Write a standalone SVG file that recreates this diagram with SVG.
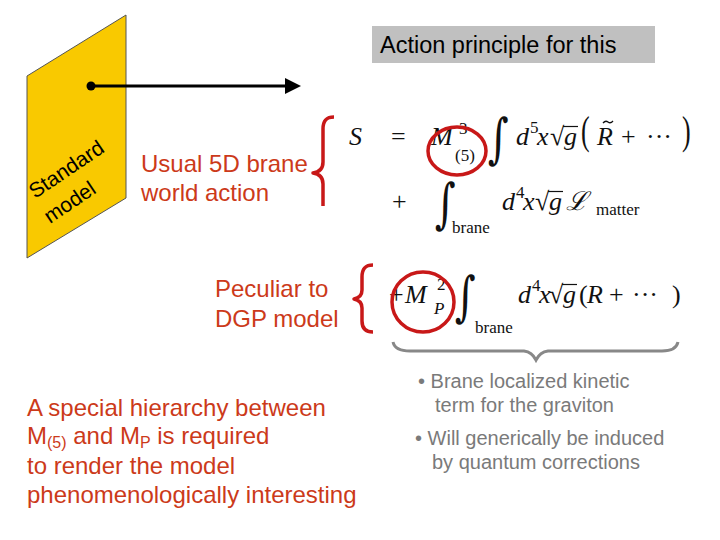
<svg xmlns="http://www.w3.org/2000/svg" width="720" height="540" viewBox="0 0 720 540">
<style>
.red{font-family:"Liberation Sans",Arial,sans-serif;font-size:24px;fill:#cc3a1a}
.grey{font-family:"Liberation Sans",Arial,sans-serif;font-size:20px;fill:#7a7a7a}
.m{font-family:"Liberation Serif","DejaVu Serif",serif;font-size:26px;fill:#111}
.mi{font-family:"Liberation Serif","DejaVu Serif",serif;font-size:26px;font-style:italic;fill:#111}
.s{font-family:"Liberation Serif","DejaVu Serif",serif;font-size:17px;fill:#111}
.si{font-family:"Liberation Serif","DejaVu Serif",serif;font-size:17px;font-style:italic;fill:#111}
.int{font-family:"DejaVu Serif",serif;font-size:40px;fill:#111}
.brace{fill:none;stroke:#c81818;stroke-width:3.5;stroke-linejoin:round}
.circ{fill:none;stroke:#c81818;stroke-width:3.5}
.bar{stroke:#111;stroke-width:1.2}
.tilde{fill:none;stroke:#111;stroke-width:1.3}
</style>
<rect width="720" height="540" fill="#fff"/>

<g id="brane">
<polygon points="27,76 126,15 126,198 27,258" fill="#f9c900" stroke="#555" stroke-width="1"/>
<text transform="translate(35,199) rotate(-34)" font-family="Liberation Sans,Arial,sans-serif" font-size="21" fill="#000">Standard</text>
<text transform="translate(50,224) rotate(-34)" font-family="Liberation Sans,Arial,sans-serif" font-size="21" fill="#000">model</text>
</g>

<g id="connectors">
<circle cx="91" cy="86" r="4.5" fill="#000"/>
<line x1="91" y1="86" x2="287" y2="86" stroke="#000" stroke-width="3"/>
<polygon points="285,78 301,86 285,94" fill="#000"/>
</g>

<g id="title">
<rect x="372" y="26" width="283" height="37" fill="#c0c0c0"/>
<text x="380" y="53" font-family="Liberation Sans,Arial,sans-serif" font-size="23.5" fill="#000">Action principle for this</text>
</g>

<g id="label-usual">
<text class="red" x="141" y="172">Usual 5D brane</text>
<text class="red" x="141" y="201">world action</text>
</g>

<g id="label-dgp">
<text class="red" x="215" y="297">Peculiar to</text>
<text class="red" x="215" y="327">DGP model</text>
</g>

<g id="label-hierarchy">
<text class="red" x="27" y="416">A special hierarchy between</text>
<text class="red" x="27" y="444">M<tspan font-size="16" dy="4">(5)</tspan><tspan dy="-4"> and M</tspan><tspan font-size="16" dy="4">P</tspan><tspan dy="-4"> is required</tspan></text>
<text class="red" x="27" y="474">to render the model</text>
<text class="red" x="27" y="503">phenomenologically interesting</text>
</g>

<g id="braces">
<path class="brace" d="M334,117 C326,117 323,121 323,129 L323,162 C323,168 320,172 313,173 C320,174 323,178 323,184 L323,206"/>
<path class="brace" d="M373,265 C365,265 362,269 362,277 L362,290 C362,295 359,298 354,299 C359,300 362,303 362,308 L362,321 C362,328 365,332 373,332"/>
<path d="M393,342 Q395,351 410,351 L524,351 Q532,352 536,360 Q540,352 548,351 L662,351 Q676,351 678,342" fill="none" stroke="#888" stroke-width="3"/>
</g>

<g id="eq1">
<text class="mi" x="349" y="145">S</text>
<text class="m" x="391" y="145">=</text>
<text class="mi" x="431" y="145">M</text>
<text class="s" x="459" y="134">3</text>
<text class="s" x="455" y="161">(5)</text>
<text class="int" x="488" y="157" transform="translate(488,157) scale(1,1.35) translate(-488,-157)">∫</text>
<text class="mi" x="516" y="145">d</text>
<text class="s" x="530" y="133">5</text>
<text class="mi" x="537" y="145">x</text>
<text class="m" x="550" y="145">√</text>
<text class="mi" x="564" y="145">g</text>
<line class="bar" x1="563" y1="126.5" x2="578" y2="126.5"/>
<text class="m" x="581" y="144" transform="translate(581,144) scale(1,1.5) translate(-581,-144)">(</text>
<text class="mi" x="597" y="145">R</text>
<path class="tilde" d="M603,123 q2.5,-3 5,-1 t5,-1"/>
<text class="m" x="621" y="145">+</text>
<text class="m" x="646" y="145">···</text>
<text class="m" x="682" y="144" transform="translate(682,144) scale(1,1.5) translate(-682,-144)">)</text>
<ellipse class="circ" cx="457" cy="151" rx="29" ry="24"/>
</g>

<g id="eq2">
<text class="m" x="392" y="210">+</text>
<text class="int" x="435" y="222" transform="translate(435,222) scale(1,1.35) translate(-435,-222)">∫</text>
<text class="s" x="452" y="233">brane</text>
<text class="mi" x="502" y="210">d</text>
<text class="s" x="516" y="198">4</text>
<text class="mi" x="523" y="210">x</text>
<text class="m" x="535" y="210">√</text>
<text class="mi" x="549" y="210">g</text>
<line class="bar" x1="548" y1="191.5" x2="563" y2="191.5"/>
<text class="mi" x="566" y="210" font-family="DejaVu Serif,serif" font-size="23">ℒ</text>
<text class="s" x="596" y="215">matter</text>
</g>

<g id="eq3">
<text class="m" x="389" y="303">+</text>
<text class="mi" x="405" y="303" font-size="27">M</text>
<text class="s" x="437" y="290">2</text>
<text class="si" x="434" y="314">P</text>
<text class="int" x="455" y="315" transform="translate(455,315) scale(1,1.35) translate(-455,-315)">∫</text>
<text class="s" x="475" y="333">brane</text>
<text class="mi" x="518" y="303">d</text>
<text class="s" x="532" y="291">4</text>
<text class="mi" x="539" y="303">x</text>
<text class="m" x="549" y="303">√</text>
<text class="mi" x="563" y="303">g</text>
<line class="bar" x1="562" y1="284.5" x2="577" y2="284.5"/>
<text class="m" x="579" y="303">(</text>
<text class="mi" x="587" y="303">R</text>
<text class="m" x="609" y="303">+</text>
<text class="m" x="632" y="303">···</text>
<text class="m" x="672" y="303">)</text>
<ellipse class="circ" cx="423" cy="302" rx="31" ry="30"/>
</g>

<g id="notes">
<text class="grey" x="418" y="388">• Brane localized kinetic</text>
<text class="grey" x="435" y="412">term for the graviton</text>
<text class="grey" x="415" y="445">• Will generically be induced</text>
<text class="grey" x="432" y="469">by quantum corrections</text>
</g>
</svg>
